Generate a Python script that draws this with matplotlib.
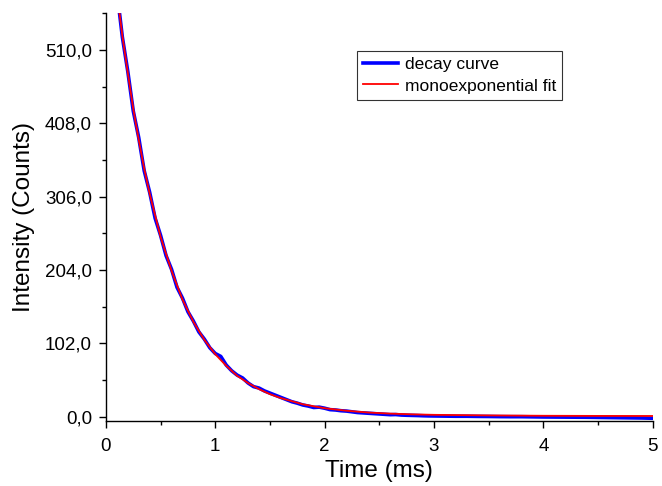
import numpy as np
import matplotlib
matplotlib.use("Agg")
import matplotlib.pyplot as plt
from matplotlib.ticker import MultipleLocator, FuncFormatter

plt.rcParams['font.family'] = ['Liberation Sans', 'DejaVu Sans']

# Данные: время (мс) и интенсивность (отсчёты)
time_decay = np.round(np.concatenate([np.arange(0.10, 3.001, 0.05),
                                      np.arange(3.1, 5.001, 0.1)]), 2)
decay_curve = [592, 528, 480, 425, 388, 342, 312, 276, 252, 224,
               205, 180, 165, 146, 133, 118, 108, 96, 88, 84,
               72, 64, 58, 54, 47, 42, 40, 36, 33, 30,
               27, 24, 21, 19, 16.5, 15, 13, 13.5, 12, 10,
               9.5, 8.5, 8, 7, 6, 5.5, 5, 4.5, 4, 3.5,
               3, 3.2, 2.5, 2.2, 2, 1.8, 1.5, 1.3, 1.2,
               1.0, 0.8, 0.8, 0.6, 0.5, 0.3, 0.2, 0.2, 0.0, -0.2,
               -0.3, -0.4, -0.5, -0.6, -0.8, -1.0, -1.2, -1.4, -1.6, -2.0]

time_fit = [0.1, 0.15, 0.2, 0.25, 0.3, 0.35, 0.4, 0.5, 0.6, 0.7,
            0.8, 0.9, 1.0, 1.1, 1.2, 1.3, 1.4, 1.5, 1.6, 1.8,
            2.0, 2.2, 2.4, 2.6, 2.8, 3.0, 3.5, 4.0, 4.5, 5.0]
fit_curve = [590, 530, 478, 428, 385, 345, 310, 250, 203, 163,
             132, 107, 87, 71, 57, 47, 38.5, 31.5, 26, 17.5,
             12, 8.5, 6, 4.5, 3.5, 2.8, 2.0, 1.5, 1.3, 1.2]

y_ticks = [0, 102, 204, 306, 408, 510]

fig = plt.figure(figsize=(6.62, 4.86), dpi=100)
ax = fig.add_axes([0.160, 0.134, 0.826, 0.839])

ax.plot(time_decay, decay_curve, color='blue', lw=2.6, label='decay curve')
ax.plot(time_fit, fit_curve, color='red', lw=1.3, label='monoexponential fit')

ax.set_xlim(0, 5)
ax.set_ylim(-5.6, 561)
ax.set_xticks([0, 1, 2, 3, 4, 5])
ax.xaxis.set_minor_locator(MultipleLocator(0.5))
ax.set_yticks(y_ticks)
ax.yaxis.set_minor_locator(MultipleLocator(51))
ax.yaxis.set_major_formatter(FuncFormatter(lambda v, p: f"{v:.1f}".replace('.', ',')))

for s in ['top', 'right']:
    ax.spines[s].set_visible(False)
for s in ['left', 'bottom']:
    ax.spines[s].set_linewidth(1.0)

ax.tick_params(which='major', direction='out', length=5, width=1.0, labelsize=13.5)
ax.tick_params(axis='x', which='major', pad=7)
ax.tick_params(axis='y', which='major', pad=5)
ax.tick_params(which='minor', direction='out', length=3, width=1.0)

ax.set_xlabel('Time (ms)', fontsize=17.5, labelpad=4)
ax.set_ylabel('Intensity (Counts)', fontsize=17.5, labelpad=7)

leg = ax.legend(loc='upper left', bbox_to_anchor=(0.459, 0.907), fontsize=12.5,
                frameon=True, fancybox=False, edgecolor='black',
                handlelength=2.0, borderpad=0.35, labelspacing=0.35,
                handletextpad=0.4, borderaxespad=0)
leg.get_frame().set_linewidth(0.8)

fig.savefig('out.png', dpi=100)
